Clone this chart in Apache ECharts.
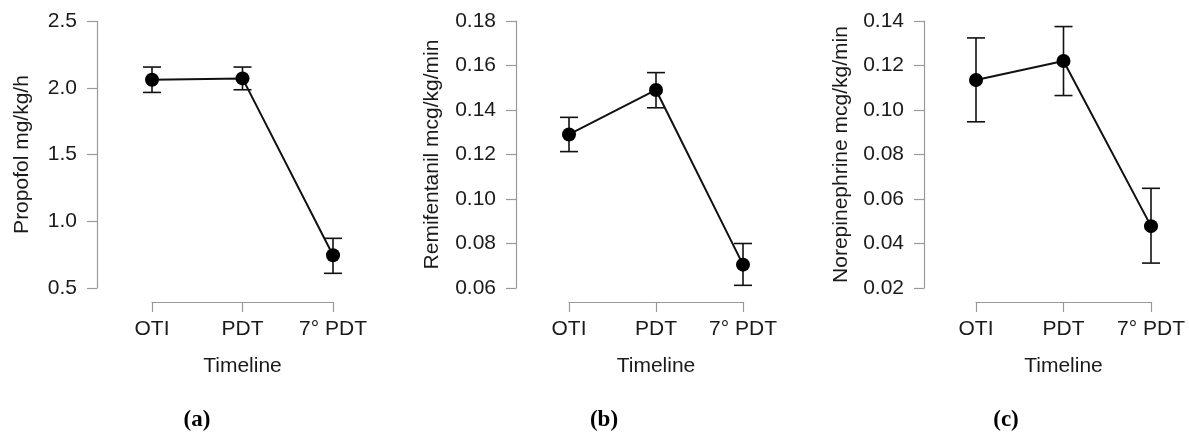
<!DOCTYPE html>
<html>
<head>
<meta charset="utf-8">
<script src="https://cdn.jsdelivr.net/npm/echarts@6/dist/echarts.min.js"></script>
<style>
  html, body { margin: 0; padding: 0; background: #ffffff; }
  #chart { width: 1189px; height: 436px; }
</style>
</head>
<body>
<div id="chart"></div>
<script>
  // categories on the time line
  var categories = ['OTI', 'PDT', '7° PDT'];

  // (a) propofol
  var propofolMean = [2.06, 2.07, 0.745];
  var propofolLow  = [1.965, 1.985, 0.61];
  var propofolHigh = [2.155, 2.155, 0.872];

  // (b) remifentanil
  var remiMean = [0.129, 0.149, 0.0705];
  var remiLow  = [0.1213, 0.141, 0.0612];
  var remiHigh = [0.1367, 0.1568, 0.0800];

  // (c) norepinephrine
  var noreMean = [0.1135, 0.1220, 0.0478];
  var noreLow  = [0.0947, 0.1065, 0.0312];
  var noreHigh = [0.1324, 0.1375, 0.0648];

  var panels = [
    { name: 'Propofol mg/kg/h', mean: propofolMean, low: propofolLow, high: propofolHigh,
      min: 0.5, max: 2.5, interval: 0.5, dec: 1,
      left: 152, width: 181, offset: 55, nameGap: 64, tag: '(a)', tagX: 197 },
    { name: 'Remifentanil mcg/kg/min', mean: remiMean, low: remiLow, high: remiHigh,
      min: 0.06, max: 0.18, interval: 0.02, dec: 2,
      left: 569, width: 174, offset: 53, nameGap: 73, tag: '(b)', tagX: 604 },
    { name: 'Norepinephrine mcg/kg/min', mean: noreMean, low: noreLow, high: noreHigh,
      min: 0.02, max: 0.14, interval: 0.02, dec: 2,
      left: 976, width: 175, offset: 52, nameGap: 72, tag: '(c)', tagX: 1006 }
  ];

  var axisColor = '#999999';
  var textColor = '#1a1a1a';
  var font = 'Liberation Sans, Arial, sans-serif';
  var fs = 21;

  var grids = [], xAxes = [], yAxes = [], series = [], graphics = [];

  panels.forEach(function (p, i) {
    grids.push({ left: p.left, top: 21, width: p.width, height: 267 });

    xAxes.push({
      gridIndex: i, type: 'category', data: categories, boundaryGap: false,
      offset: 14,
      axisLine: { lineStyle: { color: axisColor, width: 1.2 } },
      axisTick: { length: 10, interval: 0, lineStyle: { color: axisColor, width: 1.2 } },
      axisLabel: { interval: 0, hideOverlap: false, margin: 17, fontSize: fs, color: textColor, fontFamily: font },
      name: 'Timeline', nameLocation: 'middle', nameGap: 54,
      nameTextStyle: { fontSize: fs, color: textColor, fontFamily: font }
    });

    yAxes.push({
      gridIndex: i, type: 'value', min: p.min, max: p.max, interval: p.interval,
      offset: p.offset,
      splitLine: { show: false },
      axisLine: { show: true, lineStyle: { color: axisColor, width: 1.2 } },
      axisTick: { show: true, length: 10, lineStyle: { color: axisColor, width: 1.2 } },
      axisLabel: {
        margin: 20, fontSize: fs, color: textColor, fontFamily: font,
        formatter: (function (d) { return function (v) { return v.toFixed(d); }; })(p.dec)
      },
      name: p.name, nameLocation: 'middle', nameGap: p.nameGap,
      nameTextStyle: { fontSize: fs, color: textColor, fontFamily: font }
    });

    // error bars
    var errData = categories.map(function (c, k) { return [k, p.low[k], p.high[k]]; });
    series.push({
      type: 'custom', xAxisIndex: i, yAxisIndex: i, data: errData, z: 2,
      renderItem: function (params, api) {
        var lo = api.coord([api.value(0), api.value(1)]);
        var hi = api.coord([api.value(0), api.value(2)]);
        var cap = 9;
        var style = { stroke: '#111111', lineWidth: 1.6 };
        return {
          type: 'group',
          children: [
            { type: 'line', shape: { x1: lo[0], y1: lo[1], x2: hi[0], y2: hi[1] }, style: style },
            { type: 'line', shape: { x1: lo[0] - cap, y1: lo[1], x2: lo[0] + cap, y2: lo[1] }, style: style },
            { type: 'line', shape: { x1: hi[0] - cap, y1: hi[1], x2: hi[0] + cap, y2: hi[1] }, style: style }
          ]
        };
      }
    });

    // means
    series.push({
      type: 'line', xAxisIndex: i, yAxisIndex: i, data: p.mean, z: 3,
      symbol: 'circle', symbolSize: 14, animation: false,
      lineStyle: { color: '#111111', width: 2 },
      itemStyle: { color: '#000000' }
    });

    graphics.push({
      type: 'text', x: p.tagX, y: 420,
      style: { text: p.tag, fontSize: 23, fontWeight: 'bold', fill: '#000000',
               align: 'center', verticalAlign: 'middle',
               fontFamily: 'Liberation Serif, Times New Roman, serif' }
    });
  });

  var chart = echarts.init(document.getElementById('chart'));
  chart.setOption({
    backgroundColor: '#ffffff',
    animation: false,
    grid: grids,
    xAxis: xAxes,
    yAxis: yAxes,
    series: series,
    graphic: graphics
  });
</script>
</body>
</html>
